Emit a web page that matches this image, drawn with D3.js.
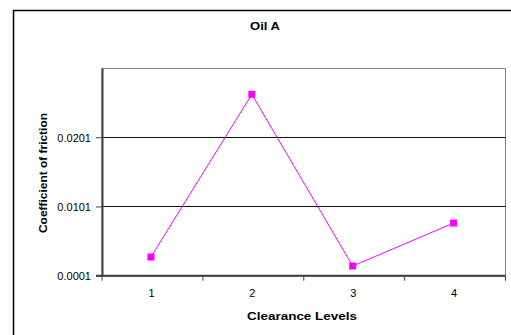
<!DOCTYPE html>
<html>
<head>
<meta charset="utf-8">
<script src="https://cdn.jsdelivr.net/npm/d3@7"></script>
<style>
  html, body { margin: 0; padding: 0; background: #fff; }
  svg { display: block; }
  text { font-family: "Liberation Sans", Arial, sans-serif; fill: #000; }
</style>
</head>
<body>
<script>
// Coefficient of friction for Oil A at each clearance level
const clearanceLevels = ["1", "2", "3", "4"];
const frictionValues = [0.0028, 0.0263, 0.0015, 0.0077];
const yTickValues = [0.0001, 0.0101, 0.0201];
const yDomain = [0.0001, 0.0301];

const W = 511, H = 335;
const plot = { left: 102, right: 505.5, top: 68, bottom: 275.7 };

const svg = d3.select("body").append("svg")
  .attr("width", W).attr("height", H);

// Chart frame (extends past the right and bottom edges)
svg.append("rect")
  .attr("x", 13.5).attr("y", 10.5)
  .attr("width", W + 10).attr("height", H + 10)
  .attr("fill", "#fff").attr("stroke", "#000").attr("stroke-width", 1.5);

const x = d3.scaleBand().domain(clearanceLevels).range([plot.left, plot.right]).padding(0);
const y = d3.scaleLinear().domain(yDomain).range([plot.bottom, plot.top]);

// Plot area outline
svg.append("rect")
  .attr("x", plot.left).attr("y", plot.top + 0.5)
  .attr("width", plot.right - plot.left).attr("height", plot.bottom - plot.top)
  .attr("fill", "none").attr("stroke", "#808080").attr("stroke-width", 1);

// Horizontal gridlines
svg.append("g").selectAll("line")
  .data(yTickValues.slice(1))
  .join("line")
  .attr("x1", plot.left).attr("x2", plot.right)
  .attr("y1", d => Math.round(y(d)) + 0.5).attr("y2", d => Math.round(y(d)) + 0.5)
  .attr("stroke", "#111").attr("stroke-width", 1);

// Y axis
const yAxis = svg.append("g")
  .attr("transform", `translate(${plot.left},0)`)
  .call(d3.axisLeft(y).tickValues(yTickValues).tickFormat(d3.format(".4f"))
    .tickSizeInner(6).tickSizeOuter(0).tickPadding(5));
yAxis.select(".domain").attr("stroke", "#404040").attr("stroke-width", 2);
yAxis.selectAll(".tick line").attr("stroke", "#404040").attr("stroke-width", 1);
yAxis.selectAll(".tick text")
  .style("font-family", "'Liberation Sans', Arial, sans-serif")
  .style("font-size", "11px").attr("fill", "#000").attr("dy", "0.36em");

// X axis: ticks sit on the category boundaries
const xAxisG = svg.append("g").attr("transform", `translate(0,${plot.bottom})`);
xAxisG.append("line")
  .attr("x1", plot.left - 6).attr("x2", plot.right)
  .attr("y1", 0).attr("y2", 0)
  .attr("stroke", "#404040").attr("stroke-width", 2);
const boundaries = clearanceLevels.map(c => x(c)).concat([x(clearanceLevels[3]) + x.bandwidth()]);
xAxisG.selectAll("line.tick")
  .data(boundaries)
  .join("line").attr("class", "tick")
  .attr("x1", d => d).attr("x2", d => d)
  .attr("y1", 0).attr("y2", 5)
  .attr("stroke", "#404040").attr("stroke-width", 1);
xAxisG.selectAll("text.cat")
  .data(clearanceLevels)
  .join("text").attr("class", "cat")
  .attr("x", d => x(d) + x.bandwidth() / 2 - 1)
  .attr("y", 21)
  .attr("text-anchor", "middle")
  .style("font-size", "11px")
  .text(d => d);

// Series line and square markers
const cx = (d, i) => x(clearanceLevels[i]) + x.bandwidth() / 2 - 1.5;
const line = d3.line().x((d, i) => cx(d, i)).y(d => y(d));
svg.append("path")
  .datum(frictionValues)
  .attr("d", line)
  .attr("fill", "none").attr("stroke", "#ff00ff").attr("stroke-width", 1);
svg.append("g").selectAll("rect")
  .data(frictionValues)
  .join("rect")
  .attr("x", (d, i) => cx(d, i) - 3.5).attr("y", d => y(d) - 3.5)
  .attr("width", 7).attr("height", 7)
  .attr("fill", "#ff00ff");

// Title and axis titles
svg.append("text")
  .attr("x", 265).attr("y", 30)
  .attr("text-anchor", "middle")
  .attr("textLength", 30).attr("lengthAdjust", "spacingAndGlyphs")
  .style("font-size", "10px").style("font-weight", "bold")
  .text("Oil A");

svg.append("text")
  .attr("x", 302).attr("y", 319.5)
  .attr("text-anchor", "middle")
  .attr("textLength", 110).attr("lengthAdjust", "spacingAndGlyphs")
  .style("font-size", "10px").style("font-weight", "bold")
  .text("Clearance Levels");

svg.append("text")
  .attr("transform", "translate(46.5,173) rotate(-90)")
  .attr("text-anchor", "middle")
  .attr("textLength", 120).attr("lengthAdjust", "spacingAndGlyphs")
  .style("font-size", "10px").style("font-weight", "bold")
  .text("Coefficient of friction");
</script>
</body>
</html>
